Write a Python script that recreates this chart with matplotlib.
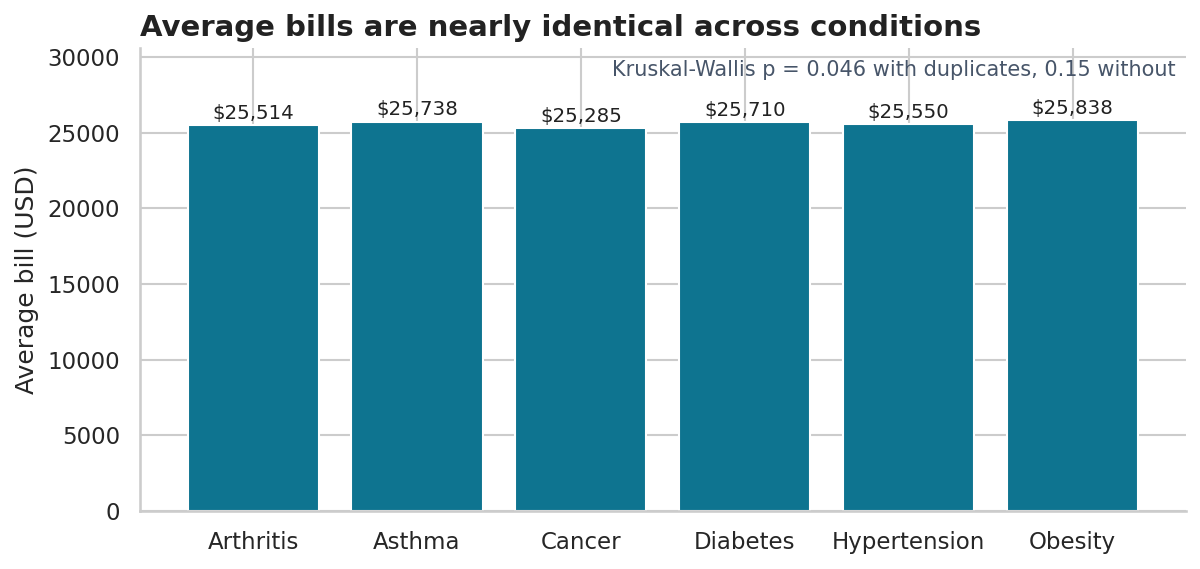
import matplotlib
matplotlib.use("Agg")
import matplotlib.pyplot as plt
import seaborn as sns

conditions = ["Arthritis", "Asthma", "Cancer", "Diabetes", "Hypertension", "Obesity"]
avg_bill = [25514, 25738, 25285, 25710, 25550, 25838]
note = "Kruskal-Wallis p = 0.046 with duplicates, 0.15 without"

sns.set_theme(style="whitegrid")
plt.rcParams['font.family'] = ['DejaVu Sans']

fig, ax = plt.subplots(figsize=(8, 569 / 150), dpi=150)
fig.subplots_adjust(left=0.1167, right=0.988, bottom=0.102, top=0.9156)

bars = ax.bar(conditions, avg_bill, width=0.8, color="#0e7490")
for b, v in zip(bars, avg_bill):
    ax.text(b.get_x() + b.get_width() / 2, v + 150, f"${v:,.0f}",
            ha="center", va="bottom", fontsize=9.5, color="#222222")

ax.set_ylim(0, 30600)
ax.set_ylabel("Average bill (USD)", fontsize=12)
ax.tick_params(axis="both", labelsize=11)
ax.set_title("Average bills are nearly identical across conditions",
             loc="left", fontsize=14, fontweight="bold", color="#222222")
ax.text(0.99, 0.975, note, transform=ax.transAxes, ha="right", va="top",
        fontsize=10, color="#475569")
sns.despine(ax=ax)

fig.savefig("out.png", dpi=150)
